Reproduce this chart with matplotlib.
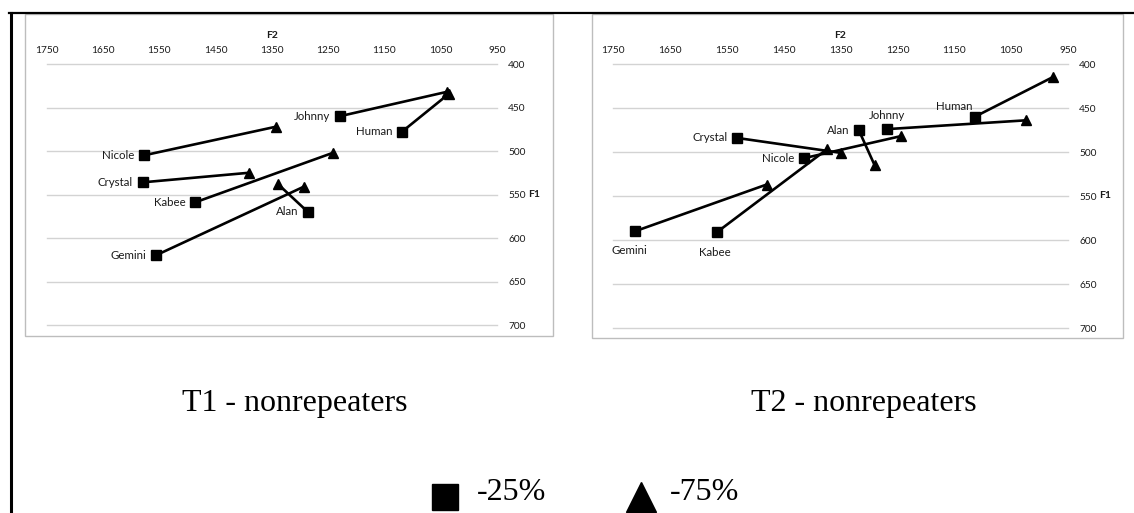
import matplotlib
matplotlib.use("Agg")
import matplotlib.pyplot as plt
from matplotlib.lines import Line2D
from matplotlib.patches import Rectangle

# speakers (same order in both panels)
names = ["Nicole", "Johnny", "Human", "Crystal", "Kabee", "Alan", "Gemini"]

# T1 - nonrepeaters : F2 / F1 for -25% (square) and -75% (triangle)
t1_f2_25 = [1577, 1229, 1119, 1579, 1486, 1286, 1556]
t1_f1_25 = [505, 460, 478, 536, 559, 570, 620]
t1_f2_75 = [1342, 1039, 1035, 1390, 1241, 1339, 1293]
t1_f1_75 = [472, 432, 434, 525, 502, 538, 541]

# T2 - nonrepeaters
t2_f2_25 = [1414, 1268, 1114, 1532, 1567, 1318, 1711]
t2_f1_25 = [507, 474, 460, 484, 591, 475, 590]
t2_f2_75 = [1244, 1024, 977, 1349, 1374, 1290, 1480]
t2_f1_75 = [482, 464, 415, 501, 497, 515, 537]

f2_ticks = [1750, 1650, 1550, 1450, 1350, 1250, 1150, 1050, 950]
f1_ticks = [400, 450, 500, 550, 600, 650, 700]

titles = ["T1 - nonrepeaters", "T2 - nonrepeaters"]
legend_labels = ["-25%", "-75%"]

W, H = 1134, 513
fig = plt.figure(figsize=(W / 100, H / 100), dpi=100)

def fx(px):
    return px / W

def fy(py):
    return 1 - py / H

chart_font = "Lato"
ink = "#1a1a1a"

# outer black frame pieces
fig.add_artist(Line2D([fx(9), 1], [fy(13), fy(13)], color="black", lw=1.6))
fig.add_artist(Line2D([fx(10.5), fx(10.5)], [0, fy(13)], color="black", lw=2.2))

# grey chart boxes
fig.add_artist(Rectangle((fx(25), fy(336)), fx(528), 322 / H, fill=False,
                         edgecolor="#bdbdbd", lw=1))
fig.add_artist(Rectangle((fx(592), fy(338)), fx(531), 324 / H, fill=False,
                         edgecolor="#bdbdbd", lw=1))


def draw_panel(rect, f2_25, f1_25, f2_75, f1_75, label_pos):
    ax = fig.add_axes(rect)
    ax.set_xlim(1750, 950)
    ax.set_ylim(700, 400)
    ax.xaxis.tick_top()
    ax.xaxis.set_label_position("top")
    ax.yaxis.tick_right()
    ax.set_xticks(f2_ticks)
    ax.set_yticks(f1_ticks)
    ax.tick_params(length=0, labelsize=7.3, colors=ink)
    ax.tick_params(axis="x", pad=6.5)
    ax.tick_params(axis="y", pad=8)
    for lab in ax.get_xticklabels() + ax.get_yticklabels():
        lab.set_fontfamily(chart_font)
    for s in ax.spines.values():
        s.set_visible(False)
    ax.grid(axis="y", color="#d3d3d3", lw=1)
    ax.grid(axis="x", visible=False)
    for gl in ax.get_ygridlines():
        gl.set_clip_on(False)
    ax.set_axisbelow(True)
    ax.set_xlabel("F2", fontsize=7.5, fontweight="bold", family=chart_font,
                  color=ink, labelpad=6)
    ax.text(1.068, 550, "F1", transform=ax.get_yaxis_transform(), fontsize=7.5,
            fontweight="bold", family=chart_font, color=ink, va="center", ha="left")

    for i, name in enumerate(names):
        ax.plot([f2_25[i], f2_75[i]], [f1_25[i], f1_75[i]], color="black",
                lw=1.9, zorder=3, clip_on=False)
        dx, dy, ha = label_pos.get(name, (-7, 0, "right"))
        ax.annotate(name, (f2_25[i], f1_25[i]), xytext=(dx, dy),
                    textcoords="offset points", ha=ha, va="center",
                    fontsize=8.3, family=chart_font, color=ink)
    ax.plot(f2_25, f1_25, "s", color="black", ms=6.5, zorder=4, clip_on=False)
    ax.plot(f2_75, f1_75, "^", color="black", ms=7, zorder=4, clip_on=False)
    return ax


draw_panel([fx(46.5), fy(325), fx(450.5), 261 / H],
           t1_f2_25, t1_f1_25, t1_f2_75, t1_f1_75, {})
draw_panel([fx(613), fy(328), fx(455), 264 / H],
           t2_f2_25, t2_f1_25, t2_f2_75, t2_f1_75,
           {"Johnny": (0, 10, "center"),
            "Human": (-14.4, 7.2, "center"),
            "Gemini": (-4.3, -13.7, "center"),
            "Kabee": (-1.4, -14.4, "center")})

serif = "Liberation Serif"
fig.text(fx(295), fy(403), titles[0], ha="center", va="center",
         fontsize=23, family=serif, color="black")
fig.text(fx(864), fy(403), titles[1], ha="center", va="center",
         fontsize=23, family=serif, color="black")

# legend at the bottom
fig.add_artist(Line2D([fx(445)], [fy(497)], marker="s", ms=18.5, color="black", lw=0))
fig.text(fx(477), fy(492), legend_labels[0], ha="left", va="center",
         fontsize=23, family=serif, color="black")
fig.add_artist(Line2D([fx(641)], [fy(497)], marker="^", ms=22, color="black", lw=0))
fig.text(fx(670), fy(492), legend_labels[1], ha="left", va="center",
         fontsize=23, family=serif, color="black")

fig.savefig("out.png", dpi=100)
